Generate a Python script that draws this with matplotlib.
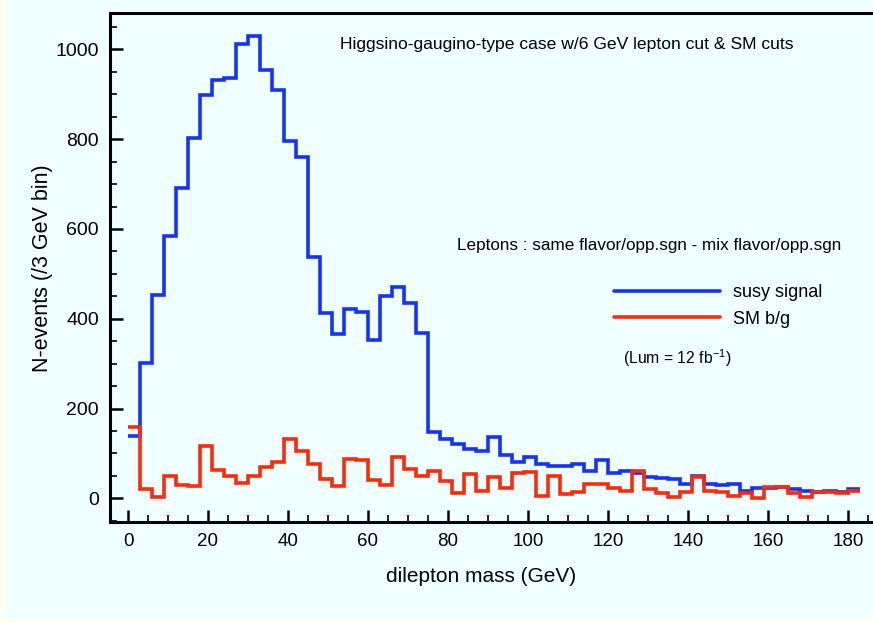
import numpy as np
import matplotlib
matplotlib.use("Agg")
import matplotlib.pyplot as plt
from matplotlib.lines import Line2D
from matplotlib.patches import Rectangle
from matplotlib.ticker import MultipleLocator

plt.rcParams['font.family'] = ['Liberation Sans', 'DejaVu Sans']
plt.rcParams['mathtext.fontset'] = 'custom'
plt.rcParams['mathtext.rm'] = 'Liberation Sans'

# ---- data (3 GeV bins from 0 to 183 GeV) ----
bin_width = 3
bin_start = 0
susy_signal = [140, 302, 454, 585, 691, 803, 899, 932, 937, 1013,
               1030, 953, 909, 797, 761, 537, 413, 365, 421, 416,
               353, 450, 471, 436, 369, 148, 132, 121, 110, 106,
               137, 97, 81, 93, 77, 73, 73, 76, 62, 85,
               57, 61, 56, 47, 45, 43, 33, 50, 33, 30,
               32, 17, 24, 24, 25, 20, 17, 15, 17, 15, 20]
sm_background = [158, 20, 3, 49, 30, 28, 116, 64, 49, 34,
                 49, 69, 80, 133, 106, 76, 43, 28, 88, 85,
                 40, 30, 93, 66, 50, 61, 38, 13, 55, 17,
                 47, 23, 56, 59, 6, 49, 10, 15, 32, 33,
                 24, 17, 60, 21, 12, 2, 15, 47, 17, 14,
                 6, 12, 0, 25, 25, 12, 4, 14, 14, 12, 17]
series_labels = ["susy signal", "SM b/g"]
title_text = "Higgsino-gaugino-type case w/6 GeV lepton cut & SM cuts"
leptons_text = "Leptons : same flavor/opp.sgn - mix flavor/opp.sgn"
lum_text = r"(Lum = 12 fb$^{\mathregular{-1}}$)"
x_label = "dilepton mass (GeV)"
y_label = "N-events (/3 GeV bin)"
x_ticks = [0, 20, 40, 60, 80, 100, 120, 140, 160, 180]
y_ticks = [0, 200, 400, 600, 800, 1000]

BLUE = '#1433FF'
RED = '#FF2A0A'
AZURE = '#F0FFFF'
IVORY = '#FFFFF2'
LW = 2.6

W, H = 873, 623
fig = plt.figure(figsize=(W / 100, H / 100), dpi=100)
fig.patch.set_facecolor(IVORY)
fig.add_artist(Rectangle((5 / W, 1 - 619 / H), 1 - 5 / W, 619 / H,
                         transform=fig.transFigure, facecolor=AZURE,
                         edgecolor='none', zorder=-10))

ax = fig.add_axes([110 / W, 1 - 521.5 / H, 1 - 110 / W, (521.5 - 13) / H])
ax.set_facecolor(AZURE)

edges = bin_start + bin_width * np.arange(len(susy_signal) + 1)
ax.stairs(susy_signal, edges, baseline=None, color=BLUE, linewidth=LW, zorder=3)
ax.stairs(sm_background, edges, baseline=None, color=RED, linewidth=LW, zorder=4)

ax.set_xlim(-4.5, 186.25)
ax.set_ylim(-51.5, 1081)

for s in ['left', 'bottom', 'top']:
    ax.spines[s].set_linewidth(2.2)
ax.spines['right'].set_visible(False)

ax.set_xticks(x_ticks)
ax.set_yticks(y_ticks)
ax.xaxis.set_minor_locator(MultipleLocator(5))
ax.yaxis.set_minor_locator(MultipleLocator(50))
ax.tick_params(which='both', direction='in', top=False, right=False)
ax.tick_params(axis='y', labelsize=14)
ax.tick_params(axis='x', labelsize=13.5)
ax.tick_params(which='major', length=9, width=1.8, pad=8)
ax.tick_params(which='minor', length=5, width=1.2)

ax.set_xlabel(x_label, fontsize=15, va='center')
ax.xaxis.set_label_coords((481 - 110) / 763, (521.5 - 577) / 508.5)
ax.set_ylabel(y_label, fontsize=15.5, va='center')
ax.yaxis.set_label_coords((43 - 110) / 763, (521.5 - 268) / 508.5)

fig.text(340 / W, 1 - 44 / H, title_text, fontsize=12.6, ha='left', va='center')
fig.text(457 / W, 1 - 246 / H, leptons_text, fontsize=12.3, ha='left', va='center')

for i, (lab, col) in enumerate(zip(series_labels, [BLUE, RED])):
    yy = 1 - (291 + 26 * i) / H
    fig.add_artist(Line2D([614 / W, 720 / W], [yy, yy], transform=fig.transFigure,
                          color=col, linewidth=LW, solid_capstyle='round'))
    fig.text(733 / W, 1 - (293 + 26 * i) / H, lab, fontsize=13, ha='left', va='center')

fig.text(623 / W, 1 - 358 / H, lum_text, fontsize=11.3, ha='left', va='center')

fig.savefig('out.png', dpi=100, facecolor=fig.get_facecolor())
